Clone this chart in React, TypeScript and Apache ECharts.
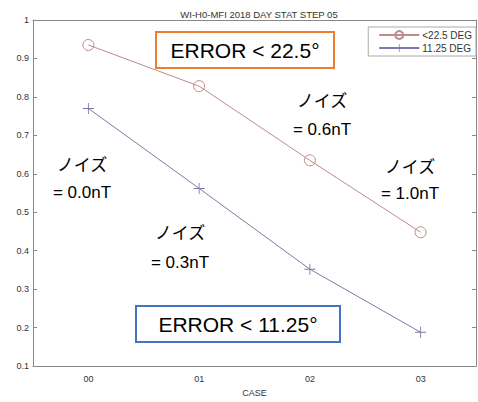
import React, { useEffect, useRef } from "react";
import * as echarts from "echarts";

const categories = ["00", "01", "02", "03"];
const seriesNames = ["<22.5 DEG", "11.25 DEG"];
const err225 = [0.935, 0.828, 0.635, 0.448];
const err1125 = [0.77, 0.562, 0.352, 0.188];
const noiseLabels = ["= 0.0nT", "= 0.3nT", "= 0.6nT", "= 1.0nT"];

const PLUS = "path://M4.6,0h0.8v4.6h4.6v0.8h-4.6v4.6h-0.8v-4.6h-4.6v-0.8h4.6z";

export default function App() {
  const ref = useRef<HTMLDivElement>(null);
  useEffect(() => {
    const chart = echarts.init(ref.current!, null, { renderer: "svg" });
    const axisCol = "#888";
    const labCol = "#333";
    const jp = "'Noto Sans CJK JP', sans-serif";
    const en = "'Liberation Sans', Arial, sans-serif";
    const noisePos = [
      [82, 163, 192],
      [180, 231, 262],
      [322, 99, 129],
      [410, 165, 193],
    ];
    const graphics: any[] = [];
    noisePos.forEach((p, i) => {
      graphics.push({
        type: "text",
        x: p[0],
        y: p[1],
        style: { text: "ノイズ", font: `17px ${jp}`, fill: "#000", align: "center", verticalAlign: "middle" },
      });
      graphics.push({
        type: "text",
        x: p[0],
        y: p[2],
        style: { text: noiseLabels[i], font: `17px ${en}`, fill: "#000", align: "center", verticalAlign: "middle" },
      });
    });
    graphics.push({
      type: "rect",
      shape: { x: 156, y: 32, width: 178, height: 36 },
      style: { fill: "#fff", stroke: "#ed7d31", lineWidth: 2 },
    });
    graphics.push({
      type: "text",
      x: 245,
      y: 50,
      style: { text: "ERROR < 22.5°", font: `21px ${en}`, fill: "#000", align: "center", verticalAlign: "middle" },
    });
    graphics.push({
      type: "rect",
      shape: { x: 136, y: 306, width: 204, height: 36 },
      style: { fill: "#fff", stroke: "#4472c4", lineWidth: 2 },
    });
    graphics.push({
      type: "text",
      x: 238,
      y: 324,
      style: { text: "ERROR < 11.25°", font: `21px ${en}`, fill: "#000", align: "center", verticalAlign: "middle" },
    });

    chart.setOption({
      animation: false,
      backgroundColor: "#fff",
      title: {
        text: "WI-H0-MFI 2018 DAY STAT STEP 05",
        left: 254,
        textAlign: "center",
        top: 4,
        textStyle: { fontSize: 9.5, fontWeight: "normal", color: "#333", fontFamily: en },
      },
      legend: {
        right: 2,
        top: 27,
        orient: "vertical",
        itemGap: 3,
        itemWidth: 40,
        itemHeight: 10,
        padding: [3, 4, 3, 10],
        borderColor: "#aaa",
        borderWidth: 1,
        backgroundColor: "#fff",
        textStyle: { fontSize: 10, color: "#333", fontFamily: en, padding: [0, 0, 0, -2] },
        data: seriesNames,
      },
      grid: { left: 33, right: 2, top: 20, bottom: 30 },
      xAxis: [
        {
          type: "category",
          data: categories,
          name: "CASE",
          nameLocation: "middle",
          nameGap: 20,
          nameTextStyle: { fontSize: 9, color: labCol, fontFamily: en },
          axisLine: { lineStyle: { color: axisCol } },
          axisTick: { inside: true, alignWithLabel: true, length: 4, lineStyle: { color: axisCol } },
          axisLabel: { fontSize: 9, color: labCol, fontFamily: en, margin: 8 },
          splitLine: { show: false },
        },
        {
          type: "category",
          data: categories,
          position: "top",
          axisLine: { lineStyle: { color: axisCol } },
          axisTick: { inside: true, alignWithLabel: true, length: 4, lineStyle: { color: axisCol } },
          axisLabel: { show: false },
        },
      ],
      yAxis: [
        {
          type: "value",
          min: 0.1,
          max: 1,
          interval: 0.1,
          axisLine: { show: true, lineStyle: { color: axisCol } },
          axisTick: { show: true, inside: true, length: 4, lineStyle: { color: axisCol } },
          axisLabel: {
            fontSize: 9,
            color: labCol,
            fontFamily: en,
            margin: 4,
            formatter: (v: number) => String(parseFloat(v.toFixed(1))),
          },
          splitLine: { show: false },
        },
        {
          type: "value",
          min: 0.1,
          max: 1,
          interval: 0.1,
          position: "right",
          axisLine: { show: true, lineStyle: { color: axisCol } },
          axisTick: { show: true, inside: true, length: 4, lineStyle: { color: axisCol } },
          axisLabel: { show: false },
          splitLine: { show: false },
        },
      ],
      series: [
        {
          name: seriesNames[0],
          type: "line",
          data: err225,
          symbol: "circle",
          symbolSize: 11,
          lineStyle: { color: "#bf8a8a", width: 1 },
          itemStyle: { color: "rgba(255,255,255,0)", borderColor: "#bf8a8a", borderWidth: 1 },
        },
        {
          name: seriesNames[1],
          type: "line",
          data: err1125,
          symbol: PLUS,
          symbolSize: 11,
          lineStyle: { color: "#7a7aa6", width: 1 },
          itemStyle: { color: "#7a7aa6" },
        },
      ],
      graphic: graphics,
    });
    return () => chart.dispose();
  }, []);
  return <div ref={ref} style={{ position: "absolute", left: 0, top: 0, width: 478, height: 402 }} />;
}
